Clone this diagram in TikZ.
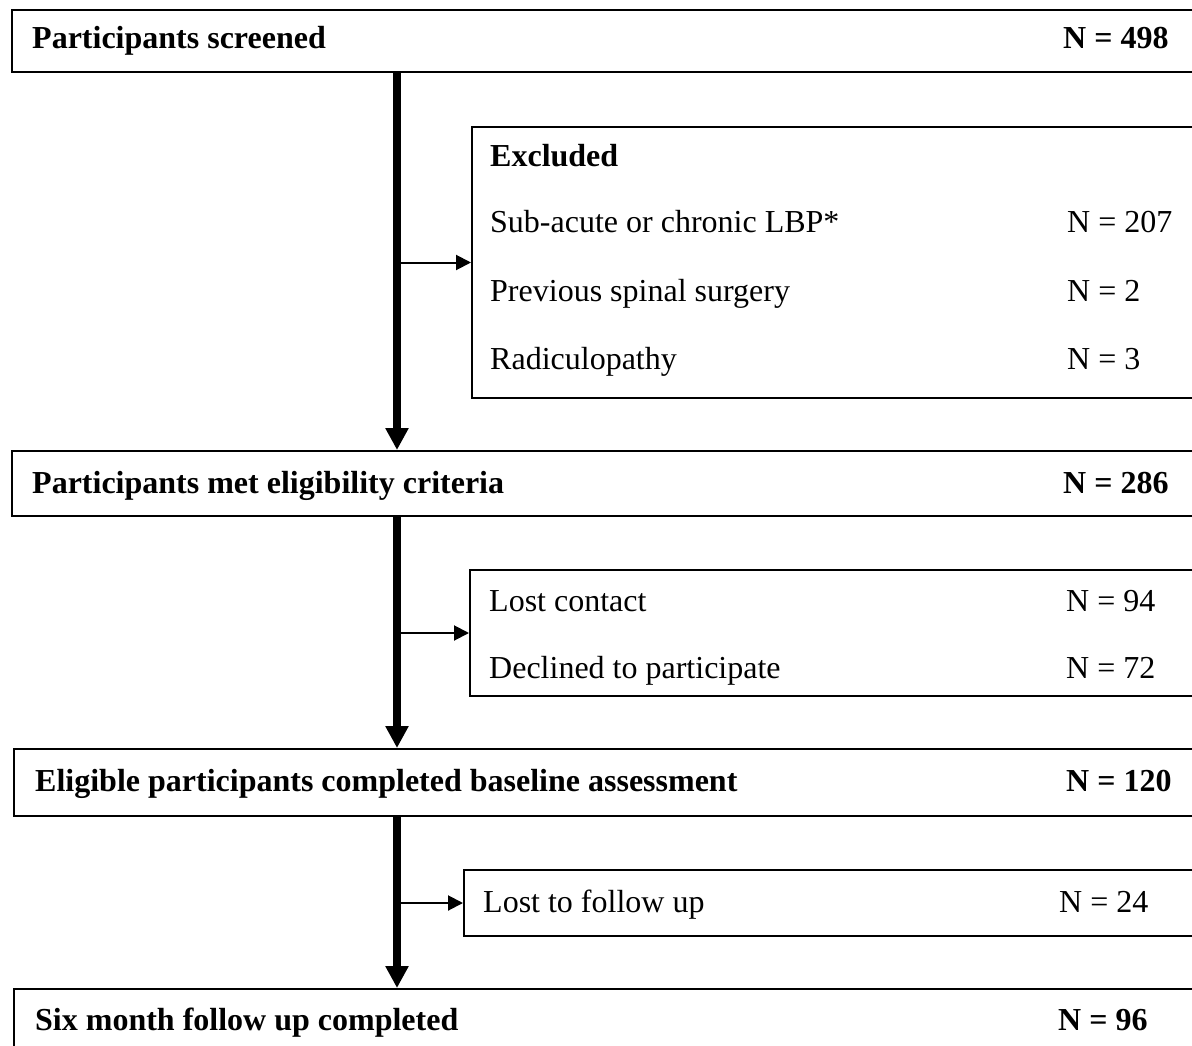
\documentclass[tikz,border=0pt]{standalone}
\usepackage{fontspec}
\setmainfont{Liberation Serif}
\usetikzlibrary{arrows.meta,positioning}
\tikzset{
  stage/.style={draw,line width=2pt,anchor=north west,minimum width=1220pt,inner sep=0pt},
  hd/.style={font=\fontsize{32}{38}\selectfont\bfseries,anchor=base west,inner sep=0pt},
  txt/.style={font=\fontsize{32}{38}\selectfont,anchor=base west,inner sep=0pt},
  mainarr/.style={line width=8pt,-{Triangle[length=22pt,width=22pt]}},
  sidearr/.style={line width=2pt,-{Triangle[length=15pt,width=15pt]}},
}
\begin{document}
\begin{tikzpicture}[x=1pt,y=-1pt]
\useasboundingbox (0,0) rectangle (1192,1046);
\clip (0,0) rectangle (1192,1046);
\coordinate (spine) at (397,0);
% main stages
\node[stage,minimum height=62pt] (screened) at (11,9) {};
\node[stage,minimum height=65pt] (eligible) at (11,450) {};
\node[stage,minimum height=67pt] (baseline) at (13,748) {};
\node[stage,minimum height=80pt] (sixmo) at (13,988) {};
% side boxes
\node[stage,minimum height=271pt] (excl) at (471,126) {};
\node[stage,minimum height=126pt] (lost) at (469,569) {};
\node[stage,minimum height=66pt] (lfu) at (463,869) {};
% labels
\node[hd] (screenedlbl) at (32,49) {Participants screened};
\node[hd] (screenedn) at (1063,49) {N = 498};
\node[hd] (excllbl) at (490,167) {Excluded};
\node[txt] (subacute) at (490,233) {Sub-acute or chronic LBP*};
\node[txt] (subacuten) at (1067,233) {N = 207};
\node[txt] (surgery) at (490,301) {Previous spinal surgery};
\node[txt] (surgeryn) at (1067,301) {N = 2};
\node[txt] (radic) at (490,369) {Radiculopathy};
\node[txt] (radicn) at (1067,369) {N = 3};
\node[hd] (eligiblelbl) at (32,493) {Participants met eligibility criteria};
\node[hd] (eligiblen) at (1063,493) {N = 286};
\node[txt] (contact) at (489,611) {Lost contact};
\node[txt] (contactn) at (1066,611) {N = 94};
\node[txt] (declined) at (489,678) {Declined to participate};
\node[txt] (declinedn) at (1066,678) {N = 72};
\node[hd] (baselinelbl) at (35,791) {Eligible participants completed baseline assessment};
\node[hd] (baselinen) at (1066,791) {N = 120};
\node[txt] (lfulbl) at (483,912) {Lost to follow up};
\node[txt] (lfun) at (1059,912) {N = 24};
\node[hd] (sixmolbl) at (35,1030) {Six month follow up completed};
\node[hd] (sixmon) at (1058,1030) {N = 96};
% arrows
\draw[sidearr] (excl.west -| spine) -- (excl.west);
\draw[sidearr] (lost.west -| spine) -- (lost.west);
\draw[sidearr] (lfu.west -| spine) -- (lfu.west);
\draw[mainarr] (screened.south -| spine) -- (eligible.north -| spine);
\draw[mainarr] (eligible.south -| spine) -- (baseline.north -| spine);
\draw[mainarr] (baseline.south -| spine) -- (sixmo.north -| spine);
\end{tikzpicture}
\end{document}
